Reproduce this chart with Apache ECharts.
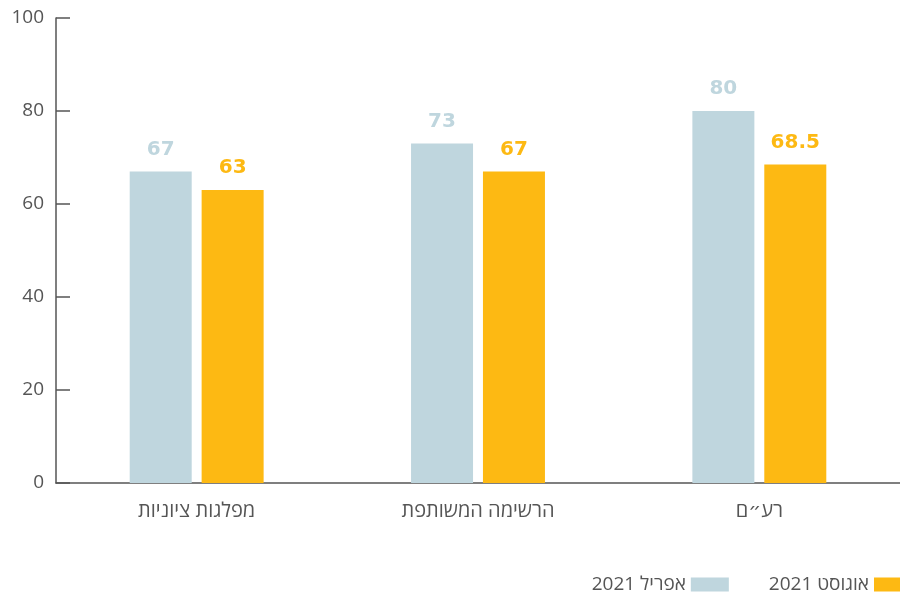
<!DOCTYPE html>
<html><head><meta charset="utf-8">
<script src="https://cdn.jsdelivr.net/npm/echarts@6/dist/echarts.min.js"></script>
<style>html,body{margin:0;padding:0;background:#fff}#c{width:900px;height:594px}</style>
</head><body><div id="c"></div>
<script>
const categories = ['מפלגות ציוניות', 'הרשימה המשותפת', 'רע״ם'];
const aprilName = 'אפריל 2021';
const augustName = 'אוגוסט 2021';
const aprilValues = [67, 73, 80];
const augustValues = [63, 67, 68.5];
const yTicks = [0, 20, 40, 60, 80, 100];

const chart = echarts.init(document.getElementById('c'));
const font = '"Open Sans", "DejaVu Sans", sans-serif';
const boldFont = '"DejaVu Sans", sans-serif';
chart.setOption({
  animation: false,
  textStyle: { fontFamily: font },
  grid: { left: 56, top: 18, width: 849, height: 465 },
  legend: {
    data: [aprilName, augustName],
    right: -17, bottom: -5,
    align: 'right',
    itemWidth: 38, itemHeight: 14, itemGap: 40,
    icon: 'rect',
    textStyle: { fontSize: 19, color: '#555', fontFamily: font }
  },
  xAxis: {
    type: 'category', data: categories,
    axisLine: { lineStyle: { color: '#555', width: 1.5 } },
    axisTick: { inside: true, length: 11, lineStyle: { color: '#555', width: 1.5 } },
    axisLabel: { fontSize: 20, color: '#555', margin: 18, fontFamily: font }
  },
  yAxis: {
    type: 'value', min: yTicks[0], max: yTicks[yTicks.length - 1], interval: 20,
    splitLine: { show: false },
    axisLine: { show: true, lineStyle: { color: '#555', width: 1.5 } },
    axisTick: { show: true, inside: true, length: 14, lineStyle: { color: '#555', width: 1.5 } },
    axisLabel: { fontSize: 19, color: '#555', margin: 12, fontFamily: font }
  },
  series: [
    { name: aprilName, type: 'bar', data: aprilValues, barWidth: 62, barGap: '16%',
      itemStyle: { color: '#bfd6de' },
      label: { show: true, position: 'top', distance: 12, color: '#bfd6de', fontSize: 20, fontWeight: 'bold', fontFamily: boldFont } },
    { name: augustName, type: 'bar', data: augustValues, barWidth: 62,
      itemStyle: { color: '#fdb913' },
      label: { show: true, position: 'top', distance: 12, color: '#fdb913', fontSize: 20, fontWeight: 'bold', fontFamily: boldFont } }
  ]
});
</script></body></html>
